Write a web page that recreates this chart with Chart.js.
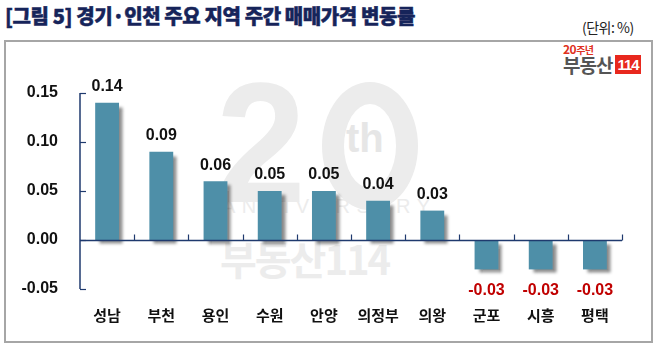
<!DOCTYPE html>
<html><head><meta charset="utf-8">
<script src="https://cdn.jsdelivr.net/npm/chart.js@4/dist/chart.umd.min.js"></script>
<style>
html,body{margin:0;padding:0;background:#fff;}
#wrap{position:relative;width:656px;height:362px;overflow:hidden;font-family:"Noto Sans CJK KR","Noto Sans",sans-serif;}
#title{position:absolute;left:5px;top:1px;font-size:20px;font-weight:900;color:#16245a;letter-spacing:-0.4px;white-space:nowrap;-webkit-text-stroke:0.5px #16245a;}
#unit{position:absolute;left:582px;top:17px;font-size:14px;color:#222;white-space:nowrap;letter-spacing:-0.5px;}
#box{position:absolute;left:4px;top:40px;width:645px;height:299px;border:2px solid #a6a6a6;}
.wm{position:absolute;color:#ececec;font-weight:bold;white-space:nowrap;font-family:"Liberation Sans",sans-serif;}
#logo{position:absolute;left:563px;top:44px;}
canvas{position:absolute;left:0;top:0;}
</style></head>
<body><div id="wrap">
<div id="title">[그림 5] 경기·인천 주요 지역 주간 매매가격 변동률</div>
<div id="unit">(단위: %)</div>
<div id="box"></div>
<div class="wm" style="left:216px;top:58px;font-size:170px;line-height:170px;transform:scaleX(0.95);transform-origin:left top;">2</div>
<div style="position:absolute;left:322px;top:82px;width:52px;height:84px;border:22px solid #ececec;border-radius:50%;"></div>
<div class="wm" style="left:346px;top:118px;font-size:40px;line-height:40px;color:#e6e6e6;">th</div>
<div class="wm" style="left:222px;top:196px;font-size:20px;line-height:20px;letter-spacing:6.5px;font-weight:normal;">ANNIVERSARY</div>
<div class="wm" style="left:220px;top:238px;font-size:40px;line-height:40px;font-family:'Noto Sans CJK KR';letter-spacing:-2px;">부동산114</div>
<div id="logo">
  <div style="font-size:10px;line-height:10px;color:#e03020;font-weight:bold;font-family:'Noto Sans CJK KR';letter-spacing:-0.5px;"><span style="font-size:12px;">20</span>주년</div>
  <div style="font-size:19px;line-height:20px;color:#555;font-weight:bold;font-family:'Noto Sans CJK KR';letter-spacing:-1px;">부동산<span style="display:inline-block;background:#e8281e;color:#fff;font-size:15px;line-height:19px;padding:0 2px;margin-left:3px;font-family:'Liberation Sans';vertical-align:top;">114</span></div>
</div>
<canvas id="c" width="656" height="362"></canvas>
</div>
<script>
const categories = ["성남","부천","용인","수원","안양","의정부","의왕","군포","시흥","평택"];
const values = [0.14,0.09,0.06,0.05,0.05,0.04,0.03,-0.03,-0.03,-0.03];
const yTicks = [-0.05,0.00,0.05,0.10,0.15];

const AXIS = "#1f3a6e";

const decor = {
  id:"decor",
  beforeDatasetsDraw(chart){
    const ctx = chart.ctx;
    ctx.save();
    ctx.shadowColor = "rgba(0,0,0,0.45)";
    ctx.shadowOffsetX = 4;
    ctx.shadowOffsetY = 4;
    ctx.shadowBlur = 3;
  },
  afterDatasetsDraw(chart){
    const ctx = chart.ctx;
    ctx.restore();
    const x = chart.scales.x, y = chart.scales.y;
    const ca = chart.chartArea;
    ctx.save();
    ctx.strokeStyle = AXIS;
    ctx.lineWidth = 1.5;
    ctx.beginPath();
    ctx.moveTo(ca.left, y.getPixelForValue(0.15));
    ctx.lineTo(ca.left, y.getPixelForValue(-0.05));
    ctx.stroke();
    ctx.lineWidth = 1.2;
    yTicks.forEach(v=>{
      const py = Math.round(y.getPixelForValue(v))+0.5;
      ctx.beginPath(); ctx.moveTo(ca.left, py); ctx.lineTo(ca.left+6, py); ctx.stroke();
    });
    const zy = Math.round(y.getPixelForValue(0))+0.5;
    ctx.lineWidth = 1.5;
    ctx.beginPath(); ctx.moveTo(ca.left, zy); ctx.lineTo(ca.right, zy); ctx.stroke();
    ctx.lineWidth = 1.2;
    const n = categories.length;
    const w = (ca.right-ca.left)/n;
    for(let i=1;i<=n;i++){
      const px = Math.round(ca.left + w*i)+0.5;
      ctx.beginPath(); ctx.moveTo(px, zy); ctx.lineTo(px, zy-6); ctx.stroke();
    }
    ctx.font = "bold 16px 'Liberation Sans', Arial, sans-serif";
    ctx.textAlign = "center";
    const meta = chart.getDatasetMeta(0);
    meta.data.forEach((bar,i)=>{
      const v = values[i];
      const txt = v.toFixed(2);
      if(v>=0){
        ctx.fillStyle = "#111";
        ctx.textBaseline = "bottom";
        ctx.fillText(txt, bar.x, bar.y-8);
      } else {
        ctx.fillStyle = "#c00000";
        ctx.textBaseline = "top";
        ctx.fillText(txt, bar.x, bar.y+13);
      }
    });
    ctx.restore();
  }
};

new Chart(document.getElementById("c"), {
  type:"bar",
  data:{
    labels: categories,
    datasets:[{
      data: values,
      backgroundColor:"#4e8fa8",
      borderWidth:0,
      barPercentage:0.44,
      categoryPercentage:1.0
    }]
  },
  options:{
    responsive:false,
    animation:false,
    events:[],
    layout:{padding:{top:93,right:34,left:0,bottom:0}},
    plugins:{legend:{display:false},tooltip:{enabled:false}},
    scales:{
      x:{
        grid:{display:false,drawTicks:false},
        border:{display:false},
        ticks:{color:"#111",padding:17,font:{family:"'Noto Sans CJK KR'",size:15,weight:"bold"},maxRotation:0,autoSkip:false},
        afterFit(s){ s.height = 73; }
      },
      y:{
        min:-0.05,max:0.15,
        grid:{display:false,drawTicks:false},
        border:{display:false},
        afterBuildTicks(s){ s.ticks = yTicks.map(v=>({value:v})); },
        ticks:{color:"#111",padding:22,font:{family:"'Liberation Sans', Arial",size:16,weight:"bold"},
          callback:(v)=> (v<0?"-":"")+Math.abs(v).toFixed(2)},
        afterFit(s){ s.width = 80; }
      }
    }
  },
  plugins:[decor]
});
</script>
</body></html>
